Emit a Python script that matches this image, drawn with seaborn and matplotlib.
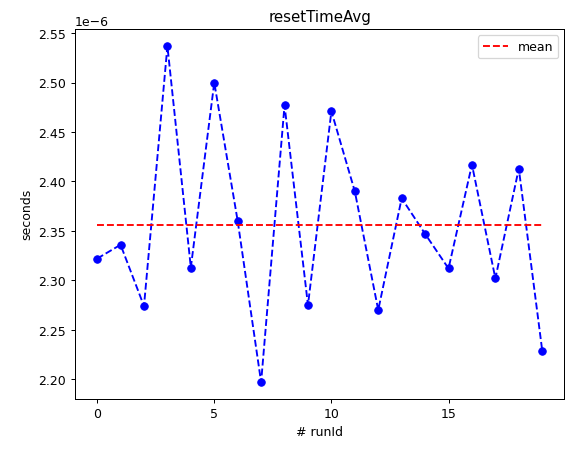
import matplotlib
matplotlib.use("Agg")
import matplotlib.pyplot as plt
import seaborn as sns
import numpy as np

run_ids = list(range(20))
reset_time_us = [2.322, 2.336, 2.274, 2.537, 2.313, 2.500, 2.360, 2.197, 2.477, 2.275,
                 2.471, 2.390, 2.270, 2.383, 2.347, 2.312, 2.417, 2.302, 2.413, 2.229]
values = [v * 1e-6 for v in reset_time_us]
mean_val = float(np.mean(values))

fig, ax = plt.subplots(figsize=(6.4, 5.03), dpi=90)
sns.lineplot(x=run_ids, y=values, ax=ax, color="blue", marker="o", markersize=6,
             markeredgecolor="blue", linestyle="--")
sns.lineplot(x=[run_ids[0], run_ids[-1]], y=[mean_val, mean_val], ax=ax, color="red",
             linestyle="--", label="mean")
ax.set_title("resetTimeAvg")
ax.set_xlabel("# runId")
ax.set_ylabel("seconds")
ax.set_xticks([0, 5, 10, 15])
ax.legend(loc="upper right")
fig.subplots_adjust(left=0.13, right=0.98, top=0.934, bottom=0.117)
fig.savefig("out.png")
